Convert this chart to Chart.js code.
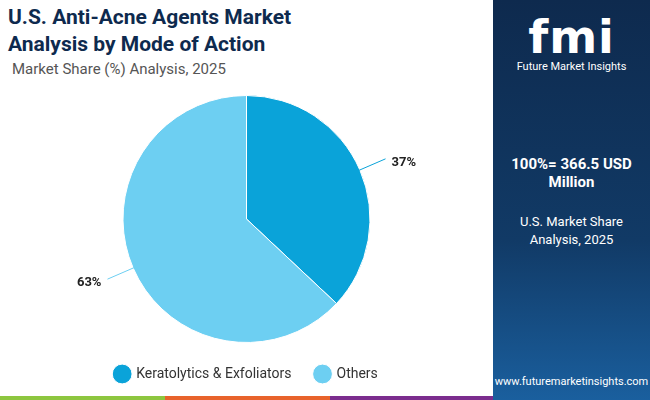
<!DOCTYPE html>
<html><head><meta charset="utf-8">
<script src="https://cdn.jsdelivr.net/npm/chart.js@4"></script>
<style>
body{margin:0;width:650px;height:400px;overflow:hidden;font-family:Roboto,sans-serif;background:#fff;position:relative}
#title{position:absolute;left:8px;top:4px;font-size:21px;font-weight:700;color:#0e2a4e;line-height:27px}
#sub{position:absolute;left:12px;top:60px;font-size:15px;color:#555}
#wrap{position:absolute;left:0;top:85px;width:493px;height:306px}
#side{position:absolute;left:493px;top:0;width:157px;height:400px;background:linear-gradient(180deg,#0e2a4e 0%,#113a66 60%,#1a5f9e 100%);color:#fff;text-align:center}
.strip{position:absolute;top:396px;height:4px}
</style></head><body>
<div id="title">U.S. Anti-Acne Agents Market<br>Analysis by Mode of Action</div>
<div id="sub">Market Share (%) Analysis, 2025</div>
<div id="wrap"><canvas id="c"></canvas></div>
<div id="side">
  <div style="margin-top:10px;font-size:46px;font-weight:700;letter-spacing:1px;font-family:'DejaVu Sans'">fmi</div>
  <div style="font-size:11px;margin-top:-4px">Future Market Insights</div>
  <div style="margin-top:82px;font-size:15px;font-weight:700;line-height:18px">100%= 366.5 USD<br>Million</div>
  <div style="margin-top:22px;font-size:13px;line-height:18px">U.S. Market Share<br>Analysis, 2025</div>
  <div style="position:absolute;bottom:12px;width:100%;font-size:11px">www.futuremarketinsights.com</div>
</div>
<div class="strip" style="left:0;width:165px;background:#8dc63f"></div>
<div class="strip" style="left:165px;width:165px;background:#e8632b"></div>
<div class="strip" style="left:330px;width:163px;background:#7b2d8e"></div>
<script>
const categories = ['Keratolytics & Exfoliators', 'Others'];
const shares = [37, 63];
const colors = ['#0aa3d9', '#6dcff2'];

// leader lines with outside labels
const leaderLabels = {
  id: 'leaderLabels',
  afterDraw(chart) {
    const ctx = chart.ctx;
    chart.getDatasetMeta(0).data.forEach((arc, i) => {
      const mid = (arc.startAngle + arc.endAngle) / 2;
      const cos = Math.cos(mid), sin = Math.sin(mid);
      const r = arc.outerRadius;
      const x1 = arc.x + cos * (r - 12), y1 = arc.y + sin * (r - 12);
      const x2 = arc.x + cos * (r + 28), y2 = arc.y + sin * (r + 28);
      ctx.save();
      ctx.strokeStyle = cos > 0 ? '#0aa3d9' : '#6dcff2';
      ctx.lineWidth = 1;
      ctx.beginPath(); ctx.moveTo(x1, y1); ctx.lineTo(x2, y2); ctx.stroke();
      ctx.fillStyle = '#222';
      ctx.font = 'bold 13px Roboto';
      ctx.textBaseline = 'middle';
      ctx.textAlign = cos > 0 ? 'left' : 'right';
      ctx.fillText(shares[i] + '%', x2 + (cos > 0 ? 6 : -6), y2 + 4);
      ctx.restore();
    });
  }
};

new Chart(document.getElementById('c'), {
  type: 'pie',
  data: {
    labels: categories,
    datasets: [{ data: shares, backgroundColor: colors, borderColor: '#fff', borderWidth: 1 }]
  },
  options: {
    responsive: true,
    maintainAspectRatio: false,
    animation: false,
    layout: { padding: { top: 10, bottom: 0 } },
    plugins: {
      tooltip: { enabled: false },
      legend: {
        position: 'bottom',
        labels: { usePointStyle: true, pointStyle: 'circle', boxWidth: 16, boxHeight: 16, padding: 24, color: '#333', font: { size: 14, family: 'Roboto' } }
      }
    }
  },
  plugins: [leaderLabels]
});
</script>
</body></html>
